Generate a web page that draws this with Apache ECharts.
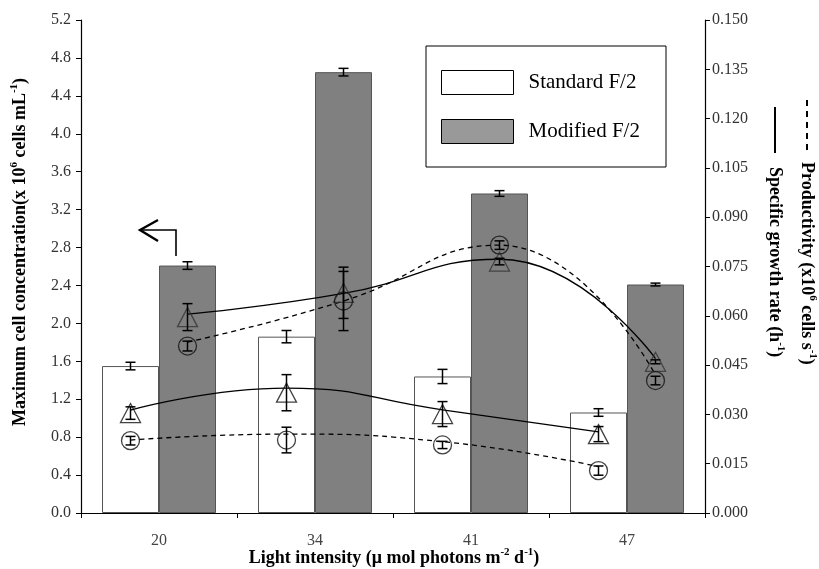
<!DOCTYPE html>
<html>
<head>
<meta charset="utf-8">
<script src="https://cdn.jsdelivr.net/npm/echarts@6/dist/echarts.min.js"></script>
<style>html,body{margin:0;padding:0;background:#fff;}#c{width:819px;height:569px;}</style>
</head>
<body>
<div id="c"></div>
<script>
// ---- data ----
const categories = ['20', '34', '41', '47'];
const standardConc = [1.55, 1.86, 1.44, 1.06];
const standardConcErr = [0.04, 0.065, 0.075, 0.04];
const modifiedConc = [2.61, 4.65, 3.37, 2.41];
const modifiedConcErr = [0.04, 0.04, 0.03, 0.015];

const stdGrowth = [0.0304, 0.0366, 0.0301, 0.0240];
const stdGrowthErr = [0.0019, 0.0055, 0.0038, 0.0023];
const stdGrowthCurve = [0.0313, 0.0380, 0.0314, 0.0247];
const stdProd = [0.0220, 0.0222, 0.0207, 0.0129];
const stdProdErr = [0.0013, 0.0039, 0.0011, 0.0014];
const stdProdCurve = [0.0222, 0.0240, 0.0217, 0.0141];

const modGrowth = [0.0596, 0.0670, 0.0765, 0.0460];
const modGrowthErr = [0.0041, 0.0078, 0.0010, 0.0006];
const modGrowthCurve = [0.0605, 0.0668, 0.0772, 0.0470];
const modProd = [0.0508, 0.0645, 0.0815, 0.0403];
const modProdErr = [0.0015, 0.0090, 0.0013, 0.0013];
const modProdCurve = [0.0520, 0.0645, 0.0815, 0.0420];

const leftTicks = {min: 0, max: 5.2, interval: 0.4};
const rightTicks = {min: 0, max: 0.15, interval: 0.015};

// ---- layout ----
const grid = {left: 81, right: 114, top: 20, bottom: 56};
const plotW = 819 - grid.left - grid.right;
const catW = plotW / categories.length;
const barW = 57;
const off = (barW / 2) / catW; // offset of each bar centre from category centre, in category units
const FONT = 'Liberation Serif';

const xs = (i) => i + 0.5 - off;
const xm = (i) => i + 0.5 + off;
const pts = (vals, fx) => vals.map((v, i) => [fx(i), v]);
const errPts = (vals, errs, fx) => vals.map((v, i) => [fx(i), v, errs[i]]);

function errRender(params, api) {
  const x = api.value(0), y = api.value(1), e = api.value(2);
  const t = api.coord([x, y + e]);
  const b = api.coord([x, y - e]);
  const hw = 5;
  const st = {stroke: '#000', lineWidth: 1.5};
  return {type: 'group', children: [
    {type: 'line', shape: {x1: t[0], y1: t[1], x2: b[0], y2: b[1]}, style: st},
    {type: 'line', shape: {x1: t[0] - hw, y1: t[1], x2: t[0] + hw, y2: t[1]}, style: st},
    {type: 'line', shape: {x1: b[0] - hw, y1: b[1], x2: b[0] + hw, y2: b[1]}, style: st}
  ]};
}
function errSeries(data, yAxisIndex) {
  return {type: 'custom', xAxisIndex: 1, yAxisIndex: yAxisIndex, renderItem: errRender,
    data: data, encode: {x: 0, y: 1}, z: 6, silent: true};
}
function curve(data, dashed) {
  return {type: 'line', xAxisIndex: 1, yAxisIndex: 1, data: data, smooth: 0.5,
    showSymbol: false, symbol: 'none', z: 4, silent: true,
    lineStyle: {color: '#000', width: 1.3, type: dashed ? [5, 4] : 'solid'}};
}
function markers(data, symbol, size, color) {
  return {type: 'scatter', xAxisIndex: 1, yAxisIndex: 1, data: data, symbol: symbol,
    symbolSize: size, z: 5, silent: true,
    itemStyle: {color: 'rgba(0,0,0,0)', borderColor: color, borderWidth: 1.3}};
}

const axisLabelStyle = {fontFamily: FONT, fontSize: 16, color: '#333'};
const richBase = (fs) => ({
  b: {fontFamily: FONT, fontWeight: 'bold', fontSize: fs, color: '#000', lineHeight: fs + 4},
  s: {fontFamily: FONT, fontWeight: 'bold', fontSize: Math.round(fs * 0.62), color: '#000', verticalAlign: 'top', lineHeight: fs + 4}
});

const option = {
  animation: false,
  backgroundColor: '#fff',
  grid: grid,
  legend: {
    orient: 'vertical', left: 441, top: 70, padding: 0, itemWidth: 72, itemHeight: 24, itemGap: 24,
    selectedMode: false, z: 10, icon: 'rect',
    textStyle: {fontFamily: FONT, fontSize: 21, color: '#000', padding: [2, 0, 0, 10]},
    data: [
      {name: 'Standard F/2', itemStyle: {color: '#fff', borderColor: '#000', borderWidth: 1}},
      {name: 'Modified F/2', itemStyle: {color: '#999', borderColor: '#000', borderWidth: 1}}
    ]
  },
  xAxis: [
    {type: 'category', data: categories, boundaryGap: true,
      axisLine: {lineStyle: {color: '#000', width: 1.2}},
      axisTick: {show: true, length: 5, alignWithLabel: false, lineStyle: {color: '#000'}},
      axisLabel: {fontFamily: FONT, fontSize: 16, color: '#444', margin: 20},
      splitLine: {show: false}},
    {type: 'value', min: 0, max: categories.length, show: false}
  ],
  yAxis: [
    {type: 'value', position: 'left', min: leftTicks.min, max: leftTicks.max, interval: leftTicks.interval,
      axisLine: {show: true, lineStyle: {color: '#000', width: 1.2}},
      axisTick: {show: true, length: 5, lineStyle: {color: '#000'}},
      axisLabel: Object.assign({margin: 10, formatter: (v) => v.toFixed(1)}, axisLabelStyle),
      splitLine: {show: false}},
    {type: 'value', position: 'right', min: rightTicks.min, max: rightTicks.max, interval: rightTicks.interval,
      axisLine: {show: true, lineStyle: {color: '#000', width: 1.2}},
      axisTick: {show: true, length: 5, lineStyle: {color: '#000'}},
      axisLabel: Object.assign({margin: 7, formatter: (v) => v.toFixed(3)}, axisLabelStyle),
      splitLine: {show: false}}
  ],
  series: [
    {name: 'Standard F/2', type: 'bar', data: standardConc, barWidth: barW, barGap: '0%', z: 2,
      itemStyle: {color: '#fff', borderColor: '#555', borderWidth: 1}},
    {name: 'Modified F/2', type: 'bar', data: modifiedConc, barWidth: barW, barGap: '0%', z: 2,
      itemStyle: {color: '#808080', borderColor: '#555', borderWidth: 1}},
    errSeries(errPts(standardConc, standardConcErr, xs), 0),
    errSeries(errPts(modifiedConc, modifiedConcErr, xm), 0),
    curve(pts(stdGrowthCurve, xs), false),
    curve(pts(stdProdCurve, xs), true),
    curve(pts(modGrowthCurve, xm), false),
    curve(pts(modProdCurve, xm), true),
    markers(pts(stdGrowth, xs), 'triangle', [20, 19], '#111'),
    markers(pts(stdProd, xs), 'circle', 18, '#111'),
    markers(pts(modGrowth, xm), 'triangle', [20, 19], '#333'),
    markers(pts(modProd, xm), 'circle', 18, '#111'),
    errSeries(errPts(stdGrowth, stdGrowthErr, xs), 1),
    errSeries(errPts(stdProd, stdProdErr, xs), 1),
    errSeries(errPts(modGrowth, modGrowthErr, xm), 1),
    errSeries(errPts(modProd, modProdErr, xm), 1)
  ],
  graphic: [
    {type: 'rect', z: 1, shape: {x: 426, y: 46, width: 240, height: 121},
      style: {fill: '#fff', stroke: '#000', lineWidth: 1}},
    // left axis title
    {type: 'text', x: 20, y: 252, rotation: Math.PI / 2, z: 10,
      style: {text: '{b|Maximum cell concentration(x 10}{s|6}{b| cells mL}{s|-1}{b|)}',
        rich: richBase(18), align: 'center', verticalAlign: 'middle'}},
    // x axis title
    {type: 'text', x: 394, y: 558, z: 10,
      style: {text: '{b|Light intensity (μ mol photons m}{s|-2}{b| d}{s|-1}{b|)}',
        rich: richBase(18), align: 'center', verticalAlign: 'middle'}},
    // right titles
    {type: 'line', z: 10, shape: {x1: 807, y1: 100, x2: 807, y2: 153},
      style: {stroke: '#000', lineWidth: 2, lineDash: [6, 5]}},
    {type: 'text', x: 807, y: 162, rotation: -Math.PI / 2, z: 10,
      style: {text: '{b|Productivity (x10}{s|6}{b| cells s}{s|-1}{b|)}',
        rich: richBase(18), align: 'left', verticalAlign: 'middle'}},
    {type: 'line', z: 10, shape: {x1: 775, y1: 107, x2: 775, y2: 153},
      style: {stroke: '#000', lineWidth: 2}},
    {type: 'text', x: 775, y: 167, rotation: -Math.PI / 2, z: 10,
      style: {text: '{b|Specific growth rate (h}{s|-1}{b|)}',
        rich: richBase(18), align: 'left', verticalAlign: 'middle'}},
    // arrow pointing to left axis
    {type: 'polyline', z: 10, shape: {points: [[176, 256], [176, 230], [142, 230]]},
      style: {stroke: '#000', lineWidth: 1.6, fill: null}},
    {type: 'polyline', z: 10, shape: {points: [[158, 220], [140, 230], [158, 241]]},
      style: {stroke: '#000', lineWidth: 2.4, fill: null}}
  ]
};

const chart = echarts.init(document.getElementById('c'), null, {renderer: 'canvas'});
chart.setOption(option);
</script>
</body>
</html>
